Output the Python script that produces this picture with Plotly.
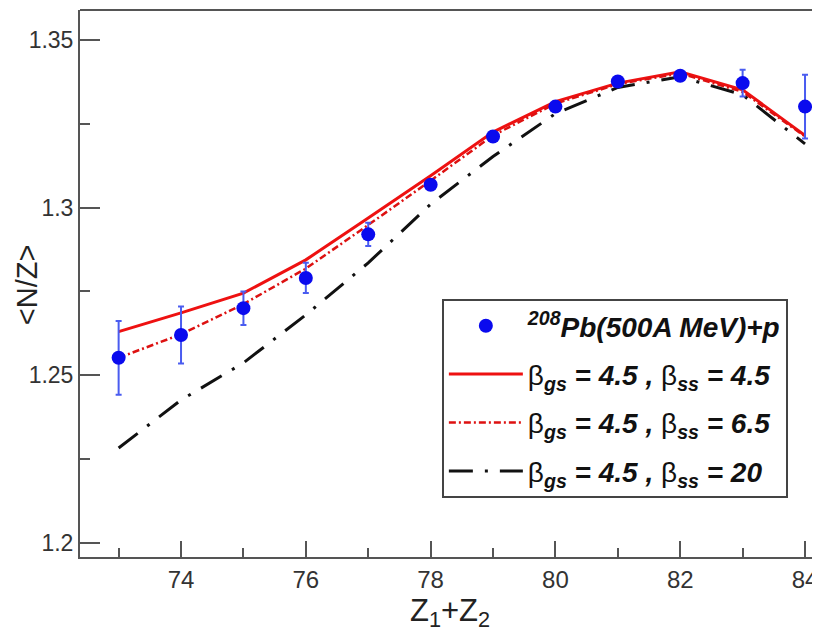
import plotly.graph_objects as go

z = [73, 74, 75, 76, 77, 78, 79, 80, 81, 82, 83, 84]
exp_nz = [1.2552, 1.2620, 1.2700, 1.2790, 1.2920, 1.3068, 1.3212, 1.3301, 1.3376, 1.3393, 1.3371, 1.3301]
exp_err = [0.011, 0.0085, 0.005, 0.0045, 0.0035, 0.0015, 0.0012, 0.0012, 0.0012, 0.0012, 0.004, 0.0095]
nz_45 = [1.2630, 1.2686, 1.2745, 1.2844, 1.2969, 1.3095, 1.3225, 1.3316, 1.3371, 1.3405, 1.3351, 1.3215]
nz_65 = [1.2552, 1.2622, 1.2712, 1.2818, 1.2948, 1.3080, 1.3215, 1.3310, 1.3368, 1.3400, 1.3345, 1.3212]
nz_20 = [1.2283, 1.2426, 1.2537, 1.2680, 1.2835, 1.3010, 1.3152, 1.3280, 1.3358, 1.3390, 1.3336, 1.3190]

legend_names = [
    "<b><i><sup>208</sup>Pb(500A MeV)+p</i></b>",
    "β<sub><b><i>gs</i></b></sub><b><i> = 4.5 , </i></b>β<sub><b><i>ss</i></b></sub><b><i> = 4.5</i></b>",
    "β<sub><b><i>gs</i></b></sub><b><i> = 4.5 , </i></b>β<sub><b><i>ss</i></b></sub><b><i> = 6.5</i></b>",
    "β<sub><b><i>gs</i></b></sub><b><i> = 4.5 , </i></b>β<sub><b><i>ss</i></b></sub><b><i> = 20</i></b>",
]

fig = go.Figure()

fig.add_trace(go.Scatter(
    x=z, y=nz_45, mode="lines", name=legend_names[1], legendgroup="b", legendrank=2,
    line=dict(color="#ee1111", width=3),
))
fig.add_trace(go.Scatter(
    x=z, y=nz_65, mode="lines", name=legend_names[2], legendgroup="c", legendrank=3,
    line=dict(color="#dd1111", width=2.5, dash="7px,3px,2px,3px"),
))
fig.add_trace(go.Scatter(
    x=z, y=nz_20, mode="lines", name=legend_names[3], legendgroup="d", legendrank=4,
    line=dict(color="#111111", width=3, dash="24px,12px,3px,12px"),
))
fig.add_trace(go.Scatter(
    x=z, y=exp_nz, mode="markers", name=legend_names[0], legendgroup="a", legendrank=1,
    marker=dict(color="#0a0aee", size=14),
    error_y=dict(type="data", array=exp_err, color="#4a5cf0", thickness=2, width=3),
))

axis_color = "#555555"
fig.update_layout(
    width=820, height=628,
    margin=dict(l=72, r=8, t=2, b=79, autoexpand=False),
    paper_bgcolor="white", plot_bgcolor="white",
    font=dict(family="Liberation Sans, Arial, sans-serif", color="#333333"),
    showlegend=True,
    legend=dict(
        x=0.489, y=0.4717, xanchor="left", yanchor="top",
        bgcolor="white", bordercolor="#444444", borderwidth=2,
        font=dict(size=28, color="#111111"),
        itemwidth=74, traceorder="grouped", tracegroupgap=9,
    ),
    xaxis=dict(
        range=[72.381, 84.24], tickmode="linear", tick0=74, dtick=2,
        ticks="inside", ticklen=16, tickwidth=2, tickcolor=axis_color,
        showline=True, linecolor=axis_color, linewidth=2, showgrid=False, zeroline=False,
        tickfont=dict(size=24, color="#333333"), automargin=False,
        minor=dict(ticks="inside", ticklen=9, tickwidth=2, tickcolor=axis_color, dtick=1, tick0=73, showgrid=False),
        title=dict(text="Z<sub>1</sub>+Z<sub>2</sub>", font=dict(size=31, color="#222222"), standoff=2),
    ),
    yaxis=dict(
        range=[1.1958, 1.3589],
        tickvals=[1.2, 1.25, 1.3, 1.35], ticktext=["1.2", "1.25", "1.3", "1.35"],
        ticks="inside", ticklen=20, tickwidth=2, tickcolor=axis_color,
        showline=True, linecolor=axis_color, linewidth=2, showgrid=False, zeroline=False,
        tickfont=dict(size=23, color="#333333"), automargin=False,
        minor=dict(ticks="inside", ticklen=10, tickwidth=2, tickcolor=axis_color, tickvals=[1.225, 1.275, 1.325], showgrid=False),
    ),
    annotations=[dict(text="<N/Z>", xref="paper", yref="paper", x=-0.0716, y=0.497,
                      xanchor="center", yanchor="middle", textangle=-90, showarrow=False,
                      font=dict(size=29, color="#222222"))],
    shapes=[dict(type="line", xref="paper", yref="paper", x0=0, x1=1, y0=1, y1=1,
                 line=dict(color=axis_color, width=2))],
)

fig.write_html("out.html")
